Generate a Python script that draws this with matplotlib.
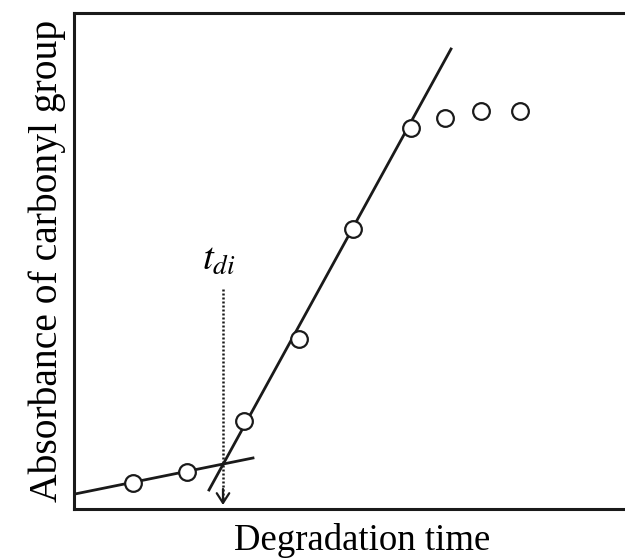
import matplotlib
matplotlib.use("Agg")
import matplotlib.pyplot as plt

plt.rcParams['font.family'] = ['Liberation Serif', 'DejaVu Serif']
plt.rcParams['mathtext.fontset'] = 'stix'

# data (arbitrary units)
time_pts = [59, 113, 170, 225, 279, 337, 371, 407, 446]
absorb_pts = [26, 37, 88, 170, 280, 381, 391, 398, 398]

# fitted lines (end points)
low_line_x = [1, 179]
low_line_y = [15, 51]
steep_line_x = [135, 377]
steep_line_y = [19, 460]

# t_di marker
tdi_x = 149
tdi_top = 222
tdi_bottom = 4

fig = plt.figure(figsize=(6.25, 5.6), dpi=100)
ax = fig.add_axes([0.1184, 0.0911, 0.8816, 0.8857])
ax.set_xlim(0, 551)
ax.set_ylim(0, 496)

ax.plot(low_line_x, low_line_y, color='#1a1a1a', lw=2.0, zorder=2)
ax.plot(steep_line_x, steep_line_y, color='#1a1a1a', lw=2.0, zorder=2)
ax.plot(time_pts, absorb_pts, 'o', ms=12, mfc='white', mec='#1a1a1a', mew=1.6, zorder=3)

ax.plot([tdi_x, tdi_x], [tdi_bottom + 6, tdi_top], color='#1a1a1a', lw=1.8,
        linestyle=(0, (0.8, 0.8)), zorder=1)
ax.annotate('', xy=(tdi_x, tdi_bottom), xytext=(tdi_x, tdi_bottom + 16),
            arrowprops=dict(arrowstyle='->,head_length=0.7,head_width=0.45',
                            color='#1a1a1a', lw=1.6, shrinkA=0, shrinkB=0))
ax.text(tdi_x - 4, tdi_top + 8, r'$t_{di}$', fontsize=28, ha='center', va='bottom')

for s in ['left', 'bottom', 'top']:
    ax.spines[s].set_linewidth(2.2)
    ax.spines[s].set_color('#1a1a1a')
ax.spines['right'].set_visible(False)
ax.set_xticks([])
ax.set_yticks([])

ax.set_xlabel('Degradation time', fontsize=26.5)
ax.xaxis.set_label_coords(0.523, -0.028)
ax.set_ylabel('Absorbance of carbonyl group', fontsize=28.5, labelpad=6)

fig.savefig('out.png', dpi=100)
